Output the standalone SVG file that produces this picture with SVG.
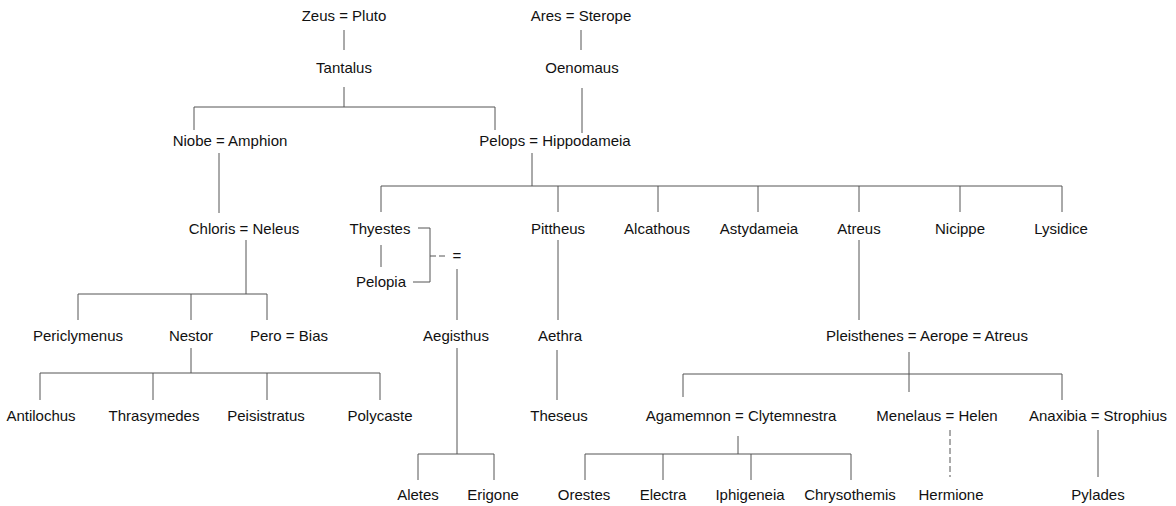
<svg xmlns="http://www.w3.org/2000/svg" width="1176" height="506" viewBox="0 0 1176 506">
<style>
text{font-family:"Liberation Sans",Arial,sans-serif;font-size:15px;fill:#111;text-anchor:middle}
.c line,.c path{stroke:#555;stroke-width:1;fill:none}
.d{stroke-dasharray:6 3}
</style>
<rect width="1176" height="506" fill="#fff"/>
<g class="c" id="connectors">
<line x1="344" y1="30" x2="344" y2="50"/>
<line x1="581" y1="30" x2="581" y2="50"/>
<path d="M344 87V107M194 130V107H495V130"/>
<line x1="582" y1="88" x2="582" y2="133"/>
<line x1="219" y1="153" x2="219" y2="213"/>
<path d="M532 153V186M381 212V186H1062V212M558 186V212M658 186V212M758 186V212M859 186V212M960 186V212"/>
<path d="M246 240V294M78 320V294H267V320M191 294V320"/>
<line x1="381" y1="245" x2="381" y2="267"/>
<path d="M418 228H430V282H413"/>
<line class="d" x1="430" y1="256" x2="447" y2="256"/>
<line x1="457" y1="269" x2="457" y2="320"/>
<line x1="558" y1="240" x2="558" y2="320"/>
<line x1="859" y1="240" x2="859" y2="320"/>
<path d="M191 348V373M40 400V373H380V400M153 373V400M267 373V400"/>
<path d="M457 348V454M418 480V454H494V480"/>
<line x1="557" y1="350" x2="557" y2="400"/>
<path d="M909 352V374M683 397V374H1062V400M909 374V392"/>
<path d="M738 436V454M585 480V454H851V480M663 454V480M751 454V480"/>
<line class="d" x1="950" y1="430" x2="950" y2="477"/>
<line x1="1098" y1="430" x2="1098" y2="477"/>
</g>
<g id="zeus_pluto"><text x="344" y="21">Zeus = Pluto</text></g>
<g id="ares_sterope"><text x="581" y="21">Ares = Sterope</text></g>
<g id="tantalus"><text x="344" y="73">Tantalus</text></g>
<g id="oenomaus"><text x="582" y="73">Oenomaus</text></g>
<g id="niobe_amphion"><text x="230" y="146">Niobe = Amphion</text></g>
<g id="pelops_hippodameia"><text x="555" y="146">Pelops = Hippodameia</text></g>
<g id="chloris_neleus"><text x="244" y="234">Chloris = Neleus</text></g>
<g id="thyestes"><text x="380" y="234">Thyestes</text></g>
<g id="pelopia"><text x="381" y="287">Pelopia</text></g>
<g id="union"><text x="457" y="261">=</text></g>
<g id="pittheus"><text x="558" y="234">Pittheus</text></g>
<g id="alcathous"><text x="657" y="234">Alcathous</text></g>
<g id="astydameia"><text x="759" y="234">Astydameia</text></g>
<g id="atreus"><text x="859" y="234">Atreus</text></g>
<g id="nicippe"><text x="960" y="234">Nicippe</text></g>
<g id="lysidice"><text x="1061" y="234">Lysidice</text></g>
<g id="periclymenus"><text x="78" y="341">Periclymenus</text></g>
<g id="nestor"><text x="191" y="341">Nestor</text></g>
<g id="pero_bias"><text x="289" y="341">Pero = Bias</text></g>
<g id="aegisthus"><text x="456" y="341">Aegisthus</text></g>
<g id="aethra"><text x="560" y="341">Aethra</text></g>
<g id="pleisthenes_aerope_atreus"><text x="927" y="341">Pleisthenes = Aerope = Atreus</text></g>
<g id="antilochus"><text x="41" y="421">Antilochus</text></g>
<g id="thrasymedes"><text x="154" y="421">Thrasymedes</text></g>
<g id="peisistratus"><text x="266" y="421">Peisistratus</text></g>
<g id="polycaste"><text x="380" y="421">Polycaste</text></g>
<g id="theseus"><text x="559" y="421">Theseus</text></g>
<g id="agamemnon_clytemnestra"><text x="741" y="421">Agamemnon = Clytemnestra</text></g>
<g id="menelaus_helen"><text x="937" y="421">Menelaus = Helen</text></g>
<g id="anaxibia_strophius"><text x="1098" y="421">Anaxibia = Strophius</text></g>
<g id="aletes"><text x="418" y="500">Aletes</text></g>
<g id="erigone"><text x="493" y="500">Erigone</text></g>
<g id="orestes"><text x="584" y="500">Orestes</text></g>
<g id="electra"><text x="663" y="500">Electra</text></g>
<g id="iphigeneia"><text x="750" y="500">Iphigeneia</text></g>
<g id="chrysothemis"><text x="850" y="500">Chrysothemis</text></g>
<g id="hermione"><text x="951" y="500">Hermione</text></g>
<g id="pylades"><text x="1098" y="500">Pylades</text></g>
</svg>
